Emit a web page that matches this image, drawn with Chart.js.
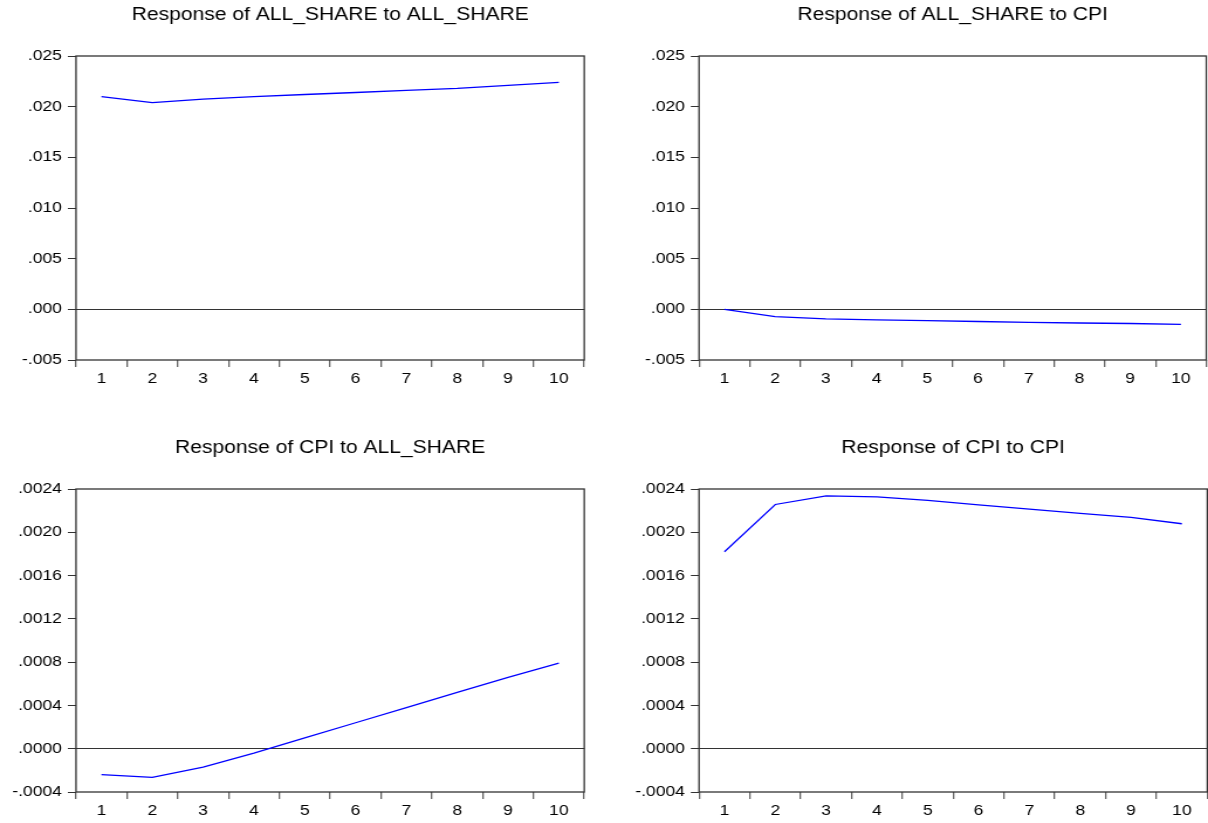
<!DOCTYPE html>
<html>
<head>
<meta charset="utf-8">
<title>Impulse responses</title>
<script src="https://cdn.jsdelivr.net/npm/chart.js@4.4.1/dist/chart.umd.min.js"></script>
<style>
  html, body { margin: 0; padding: 0; background: #fff; overflow: hidden; }
  #fig { position: relative; width: 1208px; height: 823px; }
  #fig canvas { position: absolute; }
</style>
</head>
<body>
<div id="fig">
  <canvas id="c1"></canvas>
  <canvas id="c2"></canvas>
  <canvas id="c3"></canvas>
  <canvas id="c4"></canvas>
</div>
<script>
// ---- data: responses over 10 periods ----
const periods = ["1", "2", "3", "4", "5", "6", "7", "8", "9", "10"];

const shareToShare = [0.0210, 0.0204, 0.02075, 0.0210, 0.0212, 0.0214, 0.0216, 0.0218, 0.0221, 0.0224];
const shareToCpi = [0.0, -0.00072, -0.00095, -0.00105, -0.00112, -0.0012, -0.00128, -0.00135, -0.0014, -0.00148];
const cpiToShare = [-0.00024, -0.000265, -0.00017, -0.00004, 0.0001, 0.00024, 0.00038, 0.00052, 0.00066, 0.00079];
const cpiToCpi = [0.00182, 0.002257, 0.002337, 0.002328, 0.002294, 0.002254, 0.002214, 0.002174, 0.002137, 0.002079];

// y axis ticks
const shareTickValues = [-0.005, 0, 0.005, 0.010, 0.015, 0.020, 0.025];
const shareTickLabels = ["-.005", ".000", ".005", ".010", ".015", ".020", ".025"];
const cpiTickValues = [-0.0004, 0, 0.0004, 0.0008, 0.0012, 0.0016, 0.0020, 0.0024];
const cpiTickLabels = ["-.0004", ".0000", ".0004", ".0008", ".0012", ".0016", ".0020", ".0024"];

// the whole figure is drawn a bit narrow and stretched sideways
const SX = 1.17;
const PANEL_W = 604;
const PANEL_H = 390;
const FONT = "'Liberation Sans', Arial, sans-serif";

const panels = [
  { id: "c1", title: "Response of ALL_SHARE to ALL_SHARE", values: shareToShare,
    tickValues: shareTickValues, tickLabels: shareTickLabels,
    left: 0, top: 0, plotLeft: 76, plotRight: 584, plotBottom: 360 },
  { id: "c2", title: "Response of ALL_SHARE to CPI", values: shareToCpi,
    tickValues: shareTickValues, tickLabels: shareTickLabels,
    left: 604, top: 0, plotLeft: 95, plotRight: 602, plotBottom: 360 },
  { id: "c3", title: "Response of CPI to ALL_SHARE", values: cpiToShare,
    tickValues: cpiTickValues, tickLabels: cpiTickLabels,
    left: 0, top: 433, plotLeft: 76, plotRight: 584, plotBottom: 359 },
  { id: "c4", title: "Response of CPI to CPI", values: cpiToCpi,
    tickValues: cpiTickValues, tickLabels: cpiTickLabels,
    left: 604, top: 433, plotLeft: 95, plotRight: 603, plotBottom: 359 },
];

// box around the plot area
const framePlugin = {
  id: "frame",
  afterDraw(chart) {
    const { ctx, chartArea: a } = chart;
    ctx.save();
    ctx.strokeStyle = "#333";
    ctx.lineWidth = 1.3;
    ctx.strokeRect(a.left, a.top, a.right - a.left, a.bottom - a.top);
    ctx.restore();
  },
};

function drawPanel(p) {
  const canvas = document.getElementById(p.id);
  const w = Math.round(PANEL_W / SX);
  canvas.width = w;
  canvas.height = PANEL_H;
  canvas.style.width = PANEL_W + "px";
  canvas.style.height = PANEL_H + "px";
  canvas.style.left = p.left + "px";
  canvas.style.top = p.top + "px";

  const yAxisWidth = p.plotLeft / SX;
  const rightPad = w - p.plotRight / SX;
  const xAxisHeight = PANEL_H - p.plotBottom;

  new Chart(canvas, {
    type: "line",
    data: {
      labels: periods,
      datasets: [{
        data: p.values,
        borderColor: "#0000ff",
        borderWidth: 1.3,
        pointRadius: 0,
        tension: 0,
        fill: false,
      }],
    },
    options: {
      responsive: false,
      animation: false,
      layout: { padding: { left: 0, right: rightPad, top: 0, bottom: 0 } },
      scales: {
        x: {
          type: "category",
          offset: true,
          border: { display: false },
          grid: {
            offset: true,
            drawOnChartArea: false,
            tickLength: 7,
            tickColor: "#666",
            lineWidth: 1.3,
          },
          ticks: {
            color: "#000",
            padding: 3,
            maxRotation: 0,
            autoSkip: false,
            font: { family: FONT, size: 15 },
          },
          afterFit: (s) => { s.height = xAxisHeight; },
        },
        y: {
          min: p.tickValues[0],
          max: p.tickValues[p.tickValues.length - 1],
          border: { display: false },
          afterBuildTicks: (s) => { s.ticks = p.tickValues.map((v) => ({ value: v })); },
          grid: {
            color: (c) => (c.tick && Math.abs(c.tick.value) < 1e-12 ? "#333" : "rgba(0,0,0,0)"),
            tickColor: "#333",
            tickLength: 7,
            lineWidth: 1,
          },
          ticks: {
            color: "#000",
            padding: 5,
            font: { family: FONT, size: 15 },
            callback: (v, i) => p.tickLabels[i],
          },
          afterFit: (s) => { s.width = yAxisWidth; },
        },
      },
      plugins: {
        legend: { display: false },
        tooltip: { enabled: false },
        title: {
          display: true,
          text: p.title,
          fullSize: false,
          color: "#000",
          font: { family: FONT, size: 18, weight: "normal", lineHeight: 1.2 },
          padding: { top: 4, bottom: 30.4 },
        },
      },
    },
    plugins: [framePlugin],
  });
}

panels.forEach(drawPanel);
</script>
</body>
</html>
